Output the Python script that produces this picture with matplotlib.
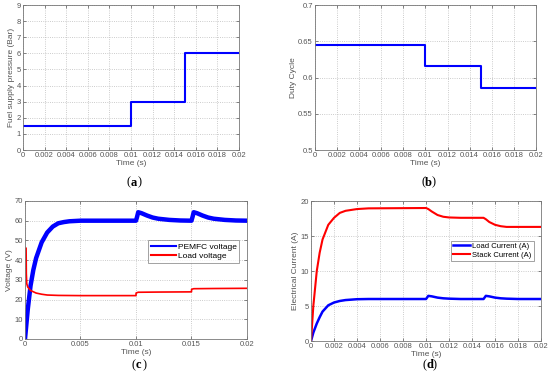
import numpy as np
import matplotlib.pyplot as plt

plt.rcParams['font.family'] = ['Liberation Sans', 'DejaVu Sans']

# (a) fuel supply pressure (bar), step profile
t_steps = [0, 0.01, 0.015, 0.02]
pressure = [1.5, 3, 6, 6]

# (b) duty cycle
duty = [0.645, 0.616, 0.586, 0.586]

# (c) voltages (V), sampled from the figure
t_pem = [0, 0.00025, 0.0005, 0.00075, 0.001, 0.0015, 0.002, 0.0025, 0.003, 0.0035,
         0.004, 0.005, 0.01, 0.0101, 0.0102, 0.0105, 0.011, 0.0115, 0.012, 0.013,
         0.014, 0.015, 0.0151, 0.0152, 0.0155, 0.016, 0.0165, 0.017, 0.018, 0.019, 0.02]
v_pem = [0, 15, 27, 35, 41, 49, 54, 57, 58.7, 59.3,
         59.7, 60, 60, 62, 64.3, 63.8, 62.6, 61.6, 61, 60.4,
         60.1, 60, 62, 64.3, 63.8, 62.6, 61.6, 61, 60.4, 60.1, 60]
t_load = [0.0001, 0.00012, 0.00016, 0.00025, 0.0005, 0.001, 0.0015, 0.002, 0.003, 0.005,
          0.01, 0.01001, 0.0102, 0.012, 0.015, 0.01501, 0.0152, 0.017, 0.02]
v_load = [46, 33, 28, 26.3, 24.6, 23.3, 22.7, 22.3, 22.1, 22,
          22, 23.3, 23.7, 23.8, 23.9, 25.2, 25.5, 25.6, 25.7]

# (d) currents (A)
t_cur = [0, 0.0002, 0.0005, 0.00075, 0.001, 0.0015, 0.002, 0.0025, 0.003, 0.004,
         0.005, 0.01, 0.0102, 0.0105, 0.011, 0.0115, 0.012, 0.013, 0.015, 0.0152,
         0.0155, 0.016, 0.0165, 0.017, 0.018, 0.02]
i_stack = [0, 5, 10, 12.6, 14.5, 16.6, 17.6, 18.3, 18.6, 18.85,
           18.95, 19, 18.85, 18.5, 18.0, 17.75, 17.65, 17.6, 17.6, 17.4,
           17.0, 16.6, 16.4, 16.3, 16.3, 16.3]
i_load = [0, 1.2, 2.5, 3.4, 4.2, 5.1, 5.5, 5.72, 5.85, 5.97,
          6.0, 6.0, 6.45, 6.38, 6.2, 6.1, 6.05, 6.0, 6.0, 6.45,
          6.38, 6.2, 6.1, 6.05, 6.0, 6.0]

fig = plt.figure(figsize=(5.5, 3.82), dpi=100)

tick_col = '#555555'
fs = 5.5
xt_fine = ['0', '0.002', '0.004', '0.006', '0.008', '0.01', '0.012', '0.014', '0.016', '0.018', '0.02']


def style(ax):
    ax.grid(True, linestyle=':', color='#bbbbbb', linewidth=0.6)
    ax.tick_params(labelsize=fs, colors=tick_col, length=2, width=0.5, direction='in',
                   top=True, right=True, pad=1.5)
    for s in ax.spines.values():
        s.set_color('#777777')
        s.set_linewidth(0.6)
    ax.set_xlabel('Time (s)', fontsize=fs + 0.5, color=tick_col, labelpad=1)


# (a)
ax = fig.add_axes([0.0418, 0.6073, 0.3927, 0.3796])
ax.step(t_steps, pressure, where='post', color='#0000ff', lw=1.5)
ax.set_xlim(0, 0.02)
ax.set_ylim(0, 9)
ax.set_xticks(np.arange(0, 0.0201, 0.002))
ax.set_xticklabels(xt_fine)
ax.set_yticks(range(10))
ax.set_ylabel('Fuel supply pressure (Bar)', fontsize=fs + 0.5, color=tick_col, labelpad=1)
style(ax)

# (b)
ax = fig.add_axes([0.5727, 0.6073, 0.4018, 0.3796])
ax.step(t_steps, duty, where='post', color='#0000ff', lw=1.5)
ax.set_xlim(0, 0.02)
ax.set_ylim(0.5, 0.7)
ax.set_xticks(np.arange(0, 0.0201, 0.002))
ax.set_xticklabels(xt_fine)
ax.set_yticks([0.5, 0.55, 0.6, 0.65, 0.7])
ax.set_yticklabels(['0.5', '0.55', '0.6', '0.65', '0.7'])
ax.set_ylabel('Duty Cycle', fontsize=fs + 0.5, color=tick_col, labelpad=1)
style(ax)

# (c)
ax = fig.add_axes([0.04545, 0.1126, 0.4036, 0.3613])
ax.plot(t_pem, v_pem, color='#0000ff', lw=3.2, label='PEMFC voltage')
ax.plot(t_load, v_load, color='#ff0000', lw=1.2, label='Load voltage')
ax.set_xlim(0, 0.02)
ax.set_ylim(0, 70)
ax.set_xticks([0, 0.005, 0.01, 0.015, 0.02])
ax.set_xticklabels(['0', '0.005', '0.01', '0.015', '0.02'])
ax.set_yticks(range(0, 71, 10))
ax.set_ylabel('Voltage (V)', fontsize=fs + 0.5, color=tick_col, labelpad=1)
style(ax)
leg = ax.legend(loc='upper right', bbox_to_anchor=(0.985, 0.745), fontsize=fs + 0.5,
                frameon=True, fancybox=False, handlelength=3, borderpad=0.3,
                labelspacing=0.2, handletextpad=0.3)
leg.get_frame().set_edgecolor('#777777')
leg.get_frame().set_linewidth(0.6)
for l in leg.get_lines():
    l.set_linewidth(1.5)

# (d)
ax = fig.add_axes([0.5655, 0.1073, 0.4182, 0.3665])
ax.plot(t_cur, i_load, color='#0000ff', lw=1.8, label='Load Current (A)')
ax.plot(t_cur, i_stack, color='#ff0000', lw=1.5, label='Stack Current (A)')
ax.set_xlim(0, 0.02)
ax.set_ylim(0, 20)
ax.set_xticks(np.arange(0, 0.0201, 0.002))
ax.set_xticklabels(xt_fine)
ax.set_yticks([0, 5, 10, 15, 20])
ax.set_ylabel('Electrical Current (A)', fontsize=fs + 0.5, color=tick_col, labelpad=1)
style(ax)
leg = ax.legend(loc='upper right', bbox_to_anchor=(0.985, 0.745), fontsize=fs,
                frameon=True, fancybox=False, handlelength=2.2, borderpad=0.3,
                labelspacing=0.2, handletextpad=0.3)
leg.get_frame().set_edgecolor('#777777')
leg.get_frame().set_linewidth(0.6)

# panel labels
for x, y, lab in [(0.238, 0.522, 'a'), (0.773, 0.522, 'b'), (0.247, 0.045, 'c'), (0.775, 0.045, 'd')]:
    fig.text(x, y, '(', ha='right', va='center', fontsize=9, family='Liberation Serif')
    fig.text(x, y, lab, ha='left', va='center', fontsize=9, family='Liberation Serif',
             weight='bold')
    fig.text(x + 0.0125, y, ')', ha='left', va='center', fontsize=9, family='Liberation Serif')

fig.savefig('out.png', dpi=100)
